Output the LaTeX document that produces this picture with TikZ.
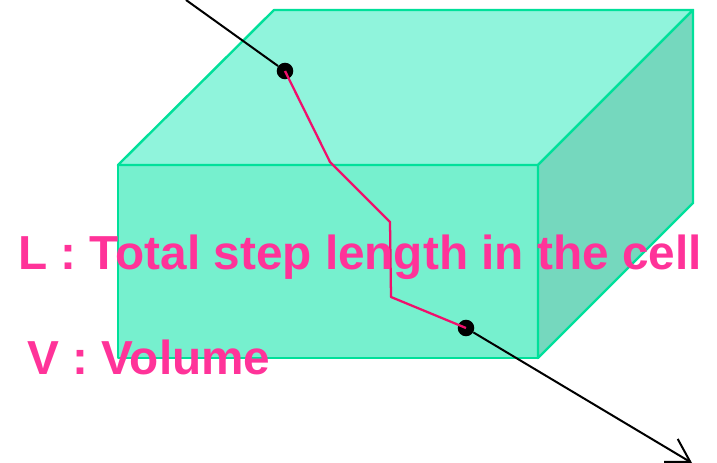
\documentclass[tikz,border=0pt]{standalone}
\usepackage{fontspec}
\setmainfont{Liberation Sans}
\usetikzlibrary{arrows.meta}
\definecolor{edgeg}{HTML}{00E09A}
\definecolor{frontc}{HTML}{76F0CE}
\definecolor{topc}{HTML}{90F4DC}
\definecolor{sidec}{HTML}{75D8BE}
\definecolor{pathc}{HTML}{F0106C}
\definecolor{labelc}{HTML}{FF3399}
\tikzset{
 x=0.75pt,y=-0.75pt,
 face/.style={draw=edgeg,line width=1.8pt,line join=round},
 track/.style={draw=pathc,line width=1.7pt,line join=round},
 ray/.style={draw=black,line width=1.5pt},
 dotn/.style={circle,fill=black,inner sep=0pt,minimum size=12.4pt},
 lab/.style={text=labelc,font=\bfseries\fontsize{35.8pt}{40pt}\selectfont,anchor=base west,inner sep=0pt}
}
\begin{document}
\begin{tikzpicture}
\useasboundingbox (0,0) rectangle (717,463);
\draw[face,fill=frontc] (118,165) -- (538,165) -- (538,358) -- (118,358) -- cycle;
\draw[face,fill=topc] (118,165) -- (274,10) -- (693,10) -- (538,165) -- cycle;
\draw[face,fill=sidec] (538,165) -- (693,10) -- (693,203) -- (538,358) -- cycle;
\coordinate (start) at (186,0);
\coordinate (stop) at (692,463);
\coordinate (k1) at (330,162);
\coordinate (k2) at (390,222);
\coordinate (k3) at (391,297);
\node[dotn] (d1) at (285,71) {};
\node[dotn] (d2) at (466,328) {};
\draw[track] (d1.center) -- (k1) -- (k2) -- (k3) -- (d2.center);
\draw[ray] (start) -- (d1);
\draw[ray,-{Straight Barb[length=17pt,width=20pt]}] (d2) -- (stop);
\node[lab] (l1) at (18,269) {L : Total step length in the cell};
\node[lab] (l2) at (27,374) {V : Volume};
\end{tikzpicture}
\end{document}
